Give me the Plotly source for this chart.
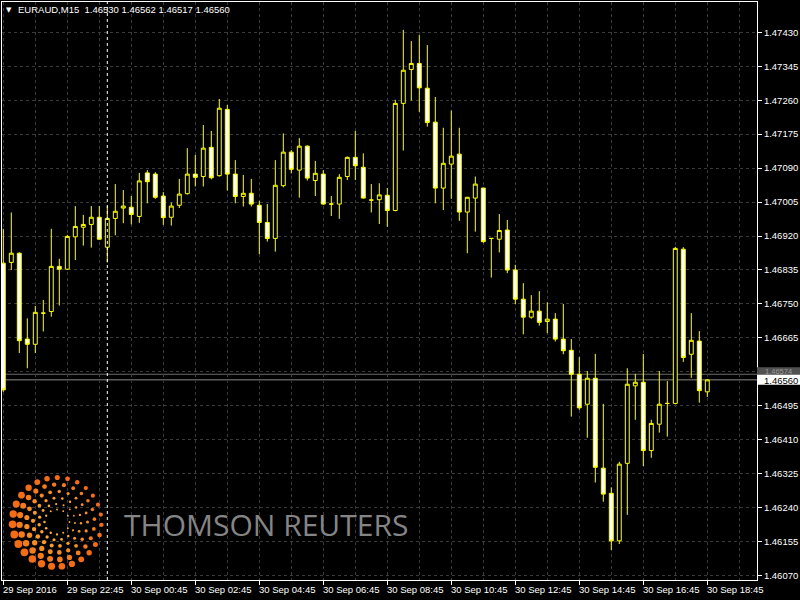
import plotly.graph_objects as go
import math

# ---------------- data (EURAUD M15) ----------------
opens = [1.46852, 1.46854, 1.46877, 1.46662, 1.46649, 1.46727, 1.46731, 1.46844, 1.46837, 1.46918,
         1.46942, 1.46949, 1.46967, 1.46892, 1.46964, 1.46990, 1.46992, 1.46969, 1.47078, 1.47075,
         1.47020, 1.46967, 1.46997, 1.47026, 1.47075, 1.47069, 1.47142, 1.47071, 1.47237, 1.47075,
         1.47019, 1.47027, 1.46997, 1.46954, 1.46914, 1.47046, 1.47130, 1.47085, 1.47145, 1.47059,
         1.47075, 1.47000, 1.47000, 1.47069, 1.47117, 1.47092, 1.47010, 1.47011, 1.47022, 1.46984,
         1.47252, 1.47337, 1.47352, 1.47290, 1.47205, 1.47040, 1.47100, 1.47125, 1.46980, 1.47015,
         1.47040, 1.46914, 1.46912, 1.46935, 1.46835, 1.46762, 1.46717, 1.46732, 1.46706, 1.46712,
         1.46662, 1.46634, 1.46574, 1.46499, 1.46564, 1.46339, 1.46276, 1.46157, 1.46351, 1.46545,
         1.46554, 1.46383, 1.46449, 1.46501, 1.46501, 1.46887, 1.46624, 1.46657, 1.46530]
highs = [1.46938, 1.46979, 1.46879, 1.46714, 1.46745, 1.46760, 1.46938, 1.46863, 1.46923, 1.46995,
         1.46973, 1.46995, 1.46995, 1.46995, 1.47050, 1.47035, 1.47020, 1.47078, 1.47085, 1.47080,
         1.47030, 1.47004, 1.47063, 1.47140, 1.47123, 1.47198, 1.47183, 1.47263, 1.47248, 1.47110,
         1.47073, 1.47063, 1.47008, 1.47000, 1.47110, 1.47177, 1.47135, 1.47165, 1.47147, 1.47108,
         1.47085, 1.47020, 1.47075, 1.47119, 1.47183, 1.47127, 1.47050, 1.47052, 1.47040, 1.47261,
         1.47436, 1.47408, 1.47423, 1.47398, 1.47268, 1.47191, 1.47234, 1.47191, 1.47018, 1.47069,
         1.47041, 1.46915, 1.46975, 1.46960, 1.46848, 1.46802, 1.46772, 1.46782, 1.46754, 1.46727,
         1.46750, 1.46662, 1.46617, 1.46582, 1.46625, 1.46500, 1.46291, 1.46355, 1.46589, 1.46575,
         1.46625, 1.46460, 1.46582, 1.46557, 1.46893, 1.46892, 1.46727, 1.46682, 1.46562]
lows = [1.46530, 1.46835, 1.46627, 1.46589, 1.46627, 1.46681, 1.46718, 1.46746, 1.46835, 1.46860,
        1.46896, 1.46891, 1.46911, 1.46854, 1.46922, 1.46952, 1.46949, 1.46953, 1.47002, 1.47013,
        1.46948, 1.46946, 1.46990, 1.47024, 1.47044, 1.47044, 1.47062, 1.47069, 1.47034, 1.47002,
        1.46994, 1.46994, 1.46875, 1.46906, 1.46881, 1.47042, 1.47077, 1.47016, 1.47059, 1.47020,
        1.46998, 1.46970, 1.46963, 1.47060, 1.47060, 1.47014, 1.46979, 1.46950, 1.46943, 1.46982,
        1.47134, 1.47259, 1.47231, 1.47194, 1.47002, 1.46985, 1.47013, 1.46958, 1.46877, 1.46931,
        1.46903, 1.46816, 1.46879, 1.46827, 1.46750, 1.46674, 1.46713, 1.46696, 1.46677, 1.46656,
        1.46624, 1.46468, 1.46485, 1.46415, 1.46303, 1.46255, 1.46134, 1.46149, 1.46222, 1.46460,
        1.46344, 1.46365, 1.46428, 1.46418, 1.46500, 1.46605, 1.46565, 1.46503, 1.46517]
closes = [1.46535, 1.46877, 1.46658, 1.46649, 1.46729, 1.46727, 1.46844, 1.46837, 1.46919, 1.46944,
          1.46949, 1.46967, 1.46912, 1.46964, 1.46982, 1.46995, 1.46974, 1.47058, 1.47056, 1.47017,
          1.46966, 1.46995, 1.47025, 1.47075, 1.47067, 1.47140, 1.47066, 1.47240, 1.47075, 1.47019,
          1.47027, 1.47000, 1.46954, 1.46914, 1.47047, 1.47130, 1.47087, 1.47145, 1.47065, 1.47077,
          1.47000, 1.47000, 1.47067, 1.47117, 1.47096, 1.47015, 1.47010, 1.47023, 1.46984, 1.47252,
          1.47335, 1.47352, 1.47291, 1.47204, 1.47040, 1.47102, 1.47120, 1.46980, 1.47017, 1.47050,
          1.46906, 1.46914, 1.46934, 1.46835, 1.46762, 1.46717, 1.46732, 1.46704, 1.46712, 1.46662,
          1.46633, 1.46574, 1.46490, 1.46564, 1.46341, 1.46274, 1.46157, 1.46349, 1.46549, 1.46554,
          1.46383, 1.46451, 1.46499, 1.46501, 1.46889, 1.46616, 1.46659, 1.46533, 1.46560]

time_labels = ["29 Sep 2016", "29 Sep 22:45", "30 Sep 00:45", "30 Sep 02:45", "30 Sep 04:45",
               "30 Sep 06:45", "30 Sep 08:45", "30 Sep 10:45", "30 Sep 12:45", "30 Sep 14:45",
               "30 Sep 16:45", "30 Sep 18:45"]
label_bars = [0, 8, 16, 24, 32, 40, 48, 56, 64, 72, 80, 88]
price_ticks = [1.46070, 1.46155, 1.46240, 1.46325, 1.46410, 1.46495, 1.46580, 1.46665, 1.46750,
               1.46835, 1.46920, 1.47005, 1.47090, 1.47175, 1.47260, 1.47345, 1.47430]
day_separator_bar = 13
bid_price = 1.46560
ask_price = 1.46574
symbol = "EURAUD,M15"
header_values = ["1.46530", "1.46562", "1.46517", "1.46560"]
watermark = "THOMSON REUTERS"

# ---------------- layout geometry ----------------
W, H = 800, 600
PL, PR, PT, PB = 2, 757, 2, 580
YMIN, YMAX = 1.460590, 1.475058
XMIN, XMAX = -0.1625, 94.2125


def pxx(px):
    return (px - PL) / (PR - PL)


def pxy(py):
    return (PB - py) / (PB - PT)


def pricey(p):
    return (p - YMIN) / (YMAX - YMIN)


FONT = "Liberation Sans, Arial, sans-serif"
GRID = "#3a3a3a"
YEL = "#ffff00"

bars = list(range(len(opens)))

fig = go.Figure()
fig.add_trace(go.Candlestick(
    x=bars, open=opens, high=highs, low=lows, close=closes,
    increasing=dict(line=dict(color=YEL, width=1), fillcolor="#000000"),
    decreasing=dict(line=dict(color=YEL, width=1), fillcolor="#ffffff"),
    whiskerwidth=0, hoverinfo="skip", showlegend=False,
))

# ---- watermark logo (decorative dots) on a pixel overlay axis ----
lx, ly, lc, lsz = [], [], [], []
cx, cy = 57, 522
rings = [(12.5, 12, 2.4, "#fbb040"), (18, 15, 3.2, "#faa634"), (24, 18, 4.1, "#f99a2a"),
         (30.5, 21, 5.0, "#f78d22"), (37.5, 24, 6.1, "#f57c1c"), (44.5, 27, 7.3, "#f36c16")]
for ri, (r, n, s, c) in enumerate(rings):
    off = (ri % 2) * math.pi / n + 0.15 * ri
    for j in range(n):
        a = off + 2 * math.pi * j / n
        fac = 0.82 + 0.22 * math.cos(a - math.pi) - 0.12 * math.sin(a)
        lx.append(cx + r * math.cos(a))
        ly.append(cy - r * math.sin(a))
        lsz.append(max(1.8, s * fac))
        lc.append(c)
fig.add_trace(go.Scatter(x=lx, y=ly, mode="markers", xaxis="x2", yaxis="y2",
                         marker=dict(size=lsz, color=lc, opacity=1, line=dict(width=0)),
                         opacity=1, hoverinfo="skip", showlegend=False))

shapes = []
annotations = []

# day separator
shapes.append(dict(type="line", xref="x", yref="paper", x0=day_separator_bar, x1=day_separator_bar,
                   y0=0, y1=1, line=dict(color="#ffffff", width=1, dash="3px,3px"), layer="above"))
# ask / bid lines
shapes.append(dict(type="line", xref="paper", yref="paper", x0=0, x1=1, y0=pricey(ask_price),
                   y1=pricey(ask_price), line=dict(color="#6a6a6a", width=1), layer="below"))
shapes.append(dict(type="line", xref="paper", yref="paper", x0=0, x1=1, y0=pricey(bid_price),
                   y1=pricey(bid_price), line=dict(color="#8a8a8a", width=1), layer="below"))
# price labels on the axis (ask label partly hidden behind the bid label)
ya = pricey(ask_price) + 2.0 / (PB - PT)
yb = pricey(bid_price)
h5 = 5.0 / (PB - PT)
shapes.append(dict(type="rect", xref="paper", yref="paper", x0=pxx(757), x1=pxx(800),
                   y0=ya - h5, y1=ya + h5, fillcolor="#505050", line=dict(width=0), layer="above"))
annotations.append(dict(x=pxx(763), y=ya + 1.0 / (PB - PT), xref="paper", yref="paper",
                        text=f"{ask_price:.5f}", showarrow=False, xanchor="left", yanchor="middle",
                        font=dict(family=FONT, size=7.5, color="#9a9a9a")))
shapes.append(dict(type="rect", xref="paper", yref="paper", x0=pxx(757), x1=pxx(800),
                   y0=yb - h5, y1=yb + h5, fillcolor="#ffffff", line=dict(width=0), layer="above"))
annotations.append(dict(x=pxx(762), y=yb - 0.5 / (PB - PT), xref="paper", yref="paper",
                        text=f"{bid_price:.5f}", showarrow=False, xanchor="left", yanchor="middle",
                        font=dict(family=FONT, size=9.5, color="#000000")))

# time labels
for b, t in zip(label_bars, time_labels):
    annotations.append(dict(x=b, y=pxy(589), xref="x", yref="paper", text=t, showarrow=False,
                            xanchor="left", yanchor="middle", xshift=-2,
                            font=dict(family=FONT, size=9.5, color="#ffffff")))

# header
annotations.append(dict(x=pxx(4), y=pxy(10), xref="paper", yref="paper", text="▼",
                        showarrow=False, xanchor="left", yanchor="middle",
                        font=dict(family="DejaVu Sans", size=7, color="#ffffff")))
annotations.append(dict(x=pxx(16), y=pxy(10), xref="paper", yref="paper",
                        text=symbol + "  " + " ".join(header_values), showarrow=False,
                        xanchor="left", yanchor="middle",
                        font=dict(family=FONT, size=9.5, color="#ffffff")))
# watermark text
annotations.append(dict(x=pxx(122), y=pxy(524), xref="paper", yref="paper", text=watermark,
                        showarrow=False, xanchor="left", yanchor="middle",
                        font=dict(family="Open Sans", size=30, color="#858585")))

fig.update_layout(
    width=W, height=H, autosize=False,
    margin=dict(l=PL, r=W - PR, t=PT, b=H - PB, pad=0),
    paper_bgcolor="#000000", plot_bgcolor="#000000",
    showlegend=False, hovermode=False,
    shapes=shapes, annotations=annotations,
    xaxis=dict(range=[XMIN, XMAX], fixedrange=True, rangeslider=dict(visible=False),
               tickmode="array", tickvals=label_bars, showticklabels=False,
               ticks="outside", ticklen=4, tickcolor="#ffffff", tickwidth=1,
               showgrid=True, gridcolor=GRID, griddash="3px,3px", gridwidth=1,
               minor=dict(tickmode="array", tickvals=[b + 4 for b in label_bars],
                          showgrid=True, gridcolor=GRID, griddash="3px,3px", ticks=""),
               showline=True, linecolor="#ffffff", linewidth=1, mirror=True, zeroline=False),
    yaxis=dict(range=[YMIN, YMAX], fixedrange=True, side="right",
               tickmode="array", tickvals=price_ticks,
               ticktext=["" if abs(v - 1.46580) < 1e-9 else f"{v:.5f}" for v in price_ticks],
               ticks="outside", ticklen=4, tickcolor="#ffffff", tickwidth=1,
               tickfont=dict(family=FONT, size=9.5, color="#ffffff"),
               showgrid=True, gridcolor=GRID, griddash="3px,3px", gridwidth=1,
               showline=True, linecolor="#ffffff", linewidth=1, mirror=True, zeroline=False),
    xaxis2=dict(range=[PL, PR], overlaying="x", visible=False, fixedrange=True),
    yaxis2=dict(range=[PB, PT], overlaying="y", visible=False, fixedrange=True),
)

fig.write_html("out.html", config={"displayModeBar": False, "staticPlot": True},
               post_script="document.body.style.margin='0';document.body.style.overflow='hidden';")
